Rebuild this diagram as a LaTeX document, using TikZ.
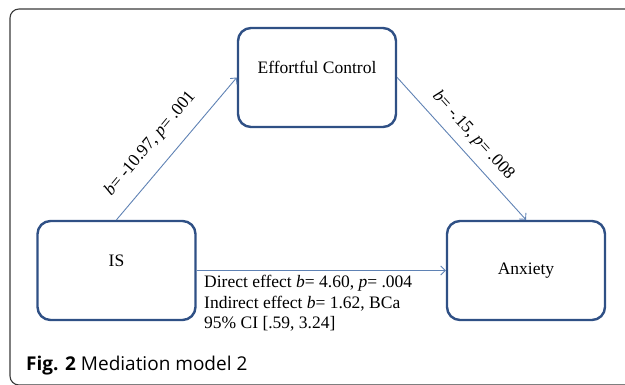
\documentclass[tikz,border=0pt]{standalone}
\usepackage{fontspec}
\setmainfont{Liberation Serif}
\setsansfont{Open Sans}
\usetikzlibrary{arrows.meta}
\definecolor{boxblue}{HTML}{2F5085}
\definecolor{arrowblue}{HTML}{5F82B4}
\definecolor{framegray}{HTML}{3A3A3A}
\newcommand{\liftup}[1]{\raisebox{10pt}[\height][\depth]{#1}}
\begin{document}
\begin{tikzpicture}
  [
    x=1pt, y=1pt,
    every node/.style = {font=\fontsize{17.5}{20.5}\selectfont},
    varbox/.style     = {draw=boxblue, line width=2.4pt, rounded corners=13pt,
                         minimum width=158pt, minimum height=99pt},
    path/.style       = {draw=arrowblue, line width=0.9pt,
                         -{Straight Barb[length=4.5pt,width=9pt]}},
    coef/.style       = {sloped, inner sep=0pt}
  ]
 \useasboundingbox (0,0) rectangle (625,384);
 \draw [framegray, line width=1.1pt, rounded corners=9pt] (10,-1) rectangle (660,375);
 \node [varbox] (ec)  at (317,306.5) {\liftup{Effortful Control}};
 \node [varbox] (is)  at (116.5,113.5) {\liftup{IS}};
 \node [varbox] (anx) at (526,113.5) {Anxiety};
 \draw [path] (is.north) -- (ec.west)
   node [coef, pos=0.43, above=15pt] {\textit{b}= -10.97, \textit{p}= .001};
 \draw [path] (ec.east) -- (anx.north)
   node [coef, pos=0.49, above=9pt] {\textit{b}= -.15, \textit{p}= .008};
 \draw [path] (is.east) -- (anx.west);
 \node [anchor=north west, align=left, inner sep=0pt] (direct) at (204,109)
   {Direct effect \textit{b}= 4.60, \textit{p}= .004\\
    Indirect effect \textit{b}= 1.62, BCa\\
    95\% CI [.59, 3.24]};
 \node [anchor=base west, inner sep=0pt, font=\sffamily\fontsize{19}{22}\selectfont]
   (caption) at (26,14) {\textbf{Fig. 2} Mediation model 2};
\end{tikzpicture}
\end{document}
